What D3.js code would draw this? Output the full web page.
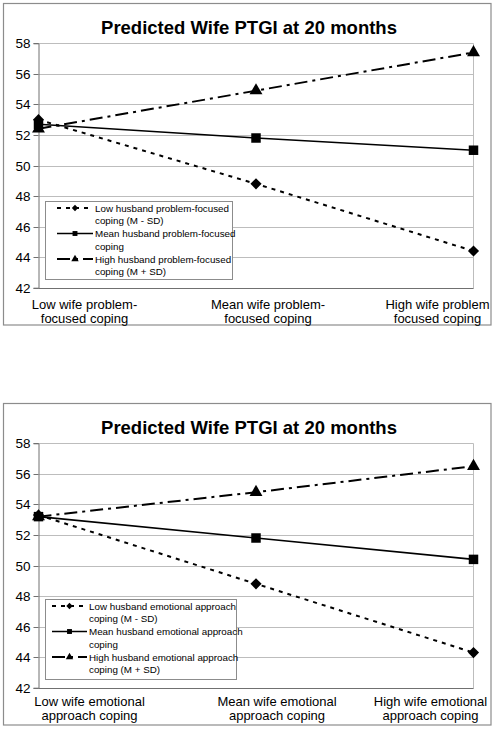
<!DOCTYPE html>
<html>
<head>
<meta charset="utf-8">
<script src="https://cdn.jsdelivr.net/npm/d3@7"></script>
<style>
  html, body { margin: 0; padding: 0; background: #fff; }
  text { font-family: "Liberation Sans", Arial, sans-serif; fill: #000; }
</style>
</head>
<body>
<svg id="chart" width="495" height="730"></svg>
<script>
// ---------------- DATA ----------------
const title = "Predicted Wife PTGI at 20 months";
const yTicks = [42, 44, 46, 48, 50, 52, 54, 56, 58];

const categoriesPF = [["Low wife problem-", "focused coping"], ["Mean wife problem-", "focused coping"], ["High wife problem", "focused coping"]];
const lowPF  = [53.0, 48.8, 44.4];
const meanPF = [52.7, 51.8, 51.0];
const highPF = [52.4, 54.9, 57.4];
const legendPF = [["Low husband problem-focused", "coping (M - SD)"], ["Mean husband problem-focused", "coping"], ["High husband problem-focused", "coping (M + SD)"]];

const categoriesEA = [["Low wife emotional", "approach coping"], ["Mean wife emotional", "approach coping"], ["High wife emotional", "approach coping"]];
const lowEA  = [53.3, 48.8, 44.3];
const meanEA = [53.2, 51.8, 50.4];
const highEA = [53.2, 54.8, 56.5];
const legendEA = [["Low husband emotional approach", "coping (M - SD)"], ["Mean husband emotional approach", "coping"], ["High husband emotional approach", "coping (M + SD)"]];

// ---------------- STYLES ----------------
const seriesStyle = [
  { dash: "4,5", width: 2, marker: d3.symbolSquare, rot: 45, size: 62, legSize: 20 },
  { dash: null, width: 1.6, marker: d3.symbolSquare, rot: 0, size: 90, legSize: 24 },
  { dash: "13,5,3,5", width: 2, marker: d3.symbolTriangle, rot: 0, size: 72, legSize: 24 }
];

const svg = d3.select("#chart");
svg.append("rect").attr("width", 495).attr("height", 730).attr("fill", "#fff");

function drawChart(top, cats, series, legendLabels, opts) {
  const g = svg.append("g").attr("transform", `translate(0,${top})`);
  // outer border
  g.append("rect").attr("x", 3.5).attr("y", 3.5).attr("width", 487.5).attr("height", 321.5)
    .attr("fill", "none").attr("stroke", "#8c8c8c").attr("stroke-width", 1.2);

  const x = d3.scalePoint().domain(d3.range(cats.length)).range([38.5, 473.5]);
  const y = d3.scaleLinear().domain([42, 58]).range([287.7, 43.3]);

  // title
  g.append("text").attr("x", 249).attr("y", 33.5).attr("text-anchor", "middle")
    .style("font-size", "18.5px").style("font-weight", "bold").text(title);

  // gridlines
  g.append("g").selectAll("line").data(yTicks.filter(t => t > 42)).join("line")
    .attr("x1", 38.5).attr("x2", 473.5)
    .attr("y1", d => Math.round(y(d)) + 0.5).attr("y2", d => Math.round(y(d)) + 0.5)
    .attr("stroke", "#bdbdbd").attr("stroke-width", 1);
  // right plot border
  g.append("line").attr("x1", 473.5).attr("x2", 473.5).attr("y1", Math.round(y(58)) + 0.5).attr("y2", Math.round(y(42)) + 0.5)
    .attr("stroke", "#bdbdbd");

  // y axis
  const yAxis = d3.axisLeft(y).tickValues(yTicks).tickSize(5).tickPadding(3).tickFormat(d3.format("d"));
  const ya = g.append("g").attr("transform", "translate(38.5,0)").call(yAxis);
  ya.select(".domain").attr("stroke", "#707070");
  ya.selectAll(".tick line").attr("stroke", "#707070");
  ya.selectAll(".tick text").style("font-size", "13.5px").attr("fill", "#000")
    .style("font-family", '"Liberation Sans", Arial, sans-serif');
  ya.selectAll(".tick").attr("transform", d => `translate(0,${Math.round(y(d)) + 0.5})`);

  // x axis line
  g.append("line").attr("x1", 38.5).attr("x2", 473.5)
    .attr("y1", Math.round(y(42)) + 0.5).attr("y2", Math.round(y(42)) + 0.5)
    .attr("stroke", "#707070");

  // category labels
  cats.forEach((lines, i) => {
    const t = g.append("text").attr("text-anchor", "middle").style("font-size", "13px");
    lines.forEach((ln, j) => {
      t.append("tspan").attr("x", x(i) + opts.labelOffsets[i]).attr("y", opts.labelY + j * 13.5).text(ln);
    });
  });

  // lines and markers
  const line = d3.line().x((d, i) => x(i)).y(d => y(d));
  series.forEach((vals, s) => {
    const st = seriesStyle[s];
    g.append("path").datum(vals).attr("d", line).attr("fill", "none")
      .attr("stroke", "#000").attr("stroke-width", st.width)
      .attr("stroke-dasharray", st.dash);
  });
  series.forEach((vals, s) => {
    const st = seriesStyle[s];
    g.append("g").selectAll("path").data(vals).join("path")
      .attr("transform", (d, i) => `translate(${x(i)},${y(d)}) rotate(${st.rot})`)
      .attr("d", d3.symbol().type(st.marker).size(st.size)).attr("fill", "#000");
  });

  // legend
  const L = opts.legend;
  const lg = g.append("g");
  lg.append("rect").attr("x", L.x + 0.5).attr("y", L.y + 0.5).attr("width", L.w).attr("height", L.h)
    .attr("fill", "#fff").attr("stroke", "#8c8c8c");
  legendLabels.forEach((lines, s) => {
    const st = seriesStyle[s];
    const cy = L.y + 7 + s * 25.5;
    lg.append("line").attr("x1", L.sx1).attr("x2", L.sx2).attr("y1", cy).attr("y2", cy)
      .attr("stroke", "#000").attr("stroke-width", st.width).attr("stroke-dasharray", st.dash);
    lg.append("path").attr("transform", `translate(${(L.sx1 + L.sx2) / 2},${cy}) rotate(${st.rot})`)
      .attr("d", d3.symbol().type(st.marker).size(st.legSize)).attr("fill", "#000");
    const t = lg.append("text").style("font-size", "9.8px");
    lines.forEach((ln, j) => {
      t.append("tspan").attr("x", L.tx).attr("y", cy + 3.5 + j * 12.7).text(ln);
    });
  });
}

drawChart(0, categoriesPF, [lowPF, meanPF, highPF], legendPF, {
  labelOffsets: [46, 12, -36], labelY: 309,
  legend: { x: 45, y: 201, w: 187, h: 78, sx1: 57, sx2: 93, tx: 95 }
});
drawChart(400, categoriesEA, [lowEA, meanEA, highEA], legendEA, {
  labelOffsets: [51, 21, -43], labelY: 306,
  legend: { x: 45, y: 199, w: 191, h: 80, sx1: 52, sx2: 87, tx: 89 }
});
</script>
</body>
</html>
